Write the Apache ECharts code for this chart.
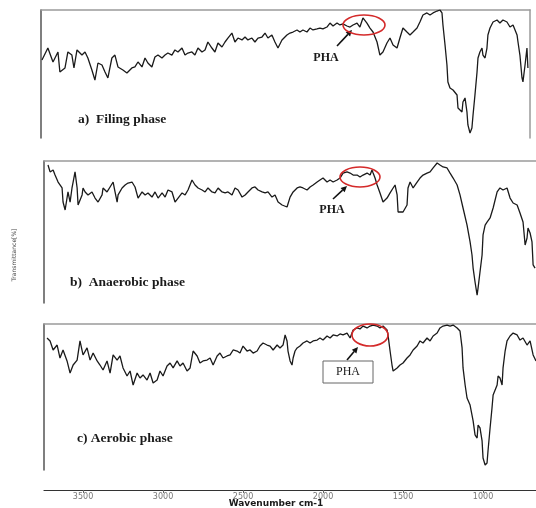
<!DOCTYPE html>
<html><head><meta charset="utf-8">
<script src="https://cdn.jsdelivr.net/npm/echarts@6/dist/echarts.min.js"></script>
<style>html,body{margin:0;padding:0;background:#fff}#c{width:536px;height:508px}</style>
</head><body><div id="c"></div>
<script>
// Panel a) Filing phase
const wnA=[3756,3719,3687,3656,3644,3612,3594,3569,3556,3537,3506,3487,3469,3444,3425,3406,3381,3362,3344,3319,3300,3281,3250,3225,3194,3175,3156,3131,3112,3094,3069,3050,3031,3006,2987,2969,2944,2925,2906,2881,2862,2844,2819,2800,2781,2756,2737,2719,2694,2675,2656,2631,2612,2594,2569,2550,2531,2506,2487,2469,2444,2425,2406,2381,2362,2344,2319,2300,2281,2256,2225,2206,2187,2162,2144,2125,2100,2081,2062,2037,2019,2000,1975,1956,1937,1912,1894,1875,1850,1831,1812,1787,1769,1750,1725,1706,1687,1662,1644,1625,1600,1581,1562,1537,1519,1500,1475,1456,1437,1412,1394,1375,1350,1331,1312,1287,1269,1256,1250,1237,1225,1219,1206,1187,1162,1156,1131,1125,1112,1100,1094,1081,1069,1062,1050,1037,1031,1019,1006,1000,987,975,969,956,937,912,894,875,850,831,812,787,781,769,756,750,737,725,719];
const tA=[60.9,70.3,59.4,67.2,51.6,54.7,67.2,64.8,54.7,68.8,64.8,67.2,62.5,53.1,45.3,58.6,57.0,51.6,46.9,62.5,64.8,55.5,53.1,50.8,54.7,55.5,59.4,55.5,62.5,58.6,55.5,63.3,64.8,62.5,64.8,66.4,64.8,68.8,67.2,70.3,64.8,66.4,67.2,64.8,70.3,67.2,68.8,75.0,70.3,67.2,74.2,71.1,75.0,78.1,82.0,75.0,78.1,76.6,78.9,76.6,78.1,75.0,78.1,78.9,82.0,78.1,80.5,75.0,70.3,76.6,80.5,82.0,82.8,84.4,82.8,84.4,82.8,85.9,84.4,85.2,85.9,85.2,86.7,89.8,87.5,89.8,88.3,89.1,87.5,86.7,88.3,89.8,86.7,93.8,89.8,85.9,82.8,75.0,64.8,67.2,74.2,78.1,72.7,70.3,78.1,85.9,82.8,80.5,82.8,85.9,90.6,96.1,97.7,96.1,97.7,99.2,100,97.7,88.3,72.7,57.0,43.8,39.1,37.5,33.6,23.4,20.3,28.1,31.3,20.3,10.2,3.9,7.8,18.0,33.6,51.6,62.5,67.2,70.3,64.8,62.5,70.3,80.5,85.9,90.6,92.2,89.8,92.2,90.6,86.7,88.3,80.5,75.0,64.8,46.9,43.8,57.0,70.3,54.7];
// Panel b) Anaerobic phase
const wnB=[3719,3706,3687,3675,3656,3631,3625,3612,3600,3594,3581,3569,3562,3550,3537,3531,3519,3506,3500,3487,3469,3444,3425,3406,3381,3375,3350,3331,3312,3300,3287,3281,3256,3237,3219,3194,3175,3156,3131,3112,3094,3069,3050,3031,3006,2987,2969,2944,2925,2906,2881,2862,2844,2819,2800,2781,2756,2737,2719,2694,2675,2656,2631,2612,2594,2569,2550,2531,2506,2487,2469,2444,2425,2406,2381,2362,2344,2319,2300,2281,2256,2250,2225,2206,2187,2162,2144,2125,2100,2081,2062,2037,2019,2000,1975,1956,1937,1912,1894,1875,1850,1831,1812,1787,1769,1750,1725,1706,1694,1687,1675,1662,1644,1625,1600,1581,1562,1550,1537,1531,1519,1500,1475,1469,1456,1437,1412,1394,1375,1350,1331,1312,1287,1281,1269,1250,1225,1206,1187,1162,1144,1125,1100,1081,1069,1062,1050,1037,1031,1019,1006,1000,987,975,956,937,912,894,875,850,831,812,787,769,750,737,725,719,706,694,687,675];
const tB=[97.2,92.3,93.7,90.1,85.2,81.0,71.1,65.5,66.9,78.2,71.1,81.0,85.2,92.3,81.0,69.0,67.6,76.1,81.0,78.2,76.1,78.2,73.9,71.1,76.1,81.0,78.2,81.7,85.2,78.2,71.1,76.1,81.0,83.1,84.5,85.2,81.7,73.9,78.2,76.1,77.5,74.6,78.2,73.9,77.5,74.6,79.6,78.2,71.1,73.9,77.5,76.1,79.6,86.6,83.1,81.0,79.6,78.2,81.0,78.2,77.5,81.0,78.2,77.5,78.2,76.1,81.0,79.6,74.6,76.1,78.2,81.0,81.7,79.6,78.2,77.5,78.2,74.6,76.1,71.1,69.0,70.4,67.6,74.6,78.2,81.0,81.7,81.0,79.6,81.7,83.1,85.2,86.6,88.0,85.2,86.6,85.2,86.6,88.0,91.5,92.3,91.5,90.1,90.1,88.7,90.1,91.5,90.1,93.7,91.5,88.0,83.1,77.5,71.1,73.9,77.5,81.0,83.1,76.1,64.1,63.4,64.1,69.0,81.0,85.2,81.0,85.2,88.0,90.1,91.5,92.3,95.1,98.6,99.3,97.2,95.8,95.1,91.5,88.0,83.1,76.1,66.9,54.9,43.0,33.8,24.6,14.8,5.6,10.6,21.8,33.8,47.9,54.9,57.0,59.9,66.9,78.2,81.0,79.6,81.0,73.9,70.4,69.0,63.4,57.0,40.8,45.8,52.8,49.3,43.0,26.8,24.6];
// Panel c) Aerobic phase
const wnC=[3725,3706,3687,3662,3644,3625,3600,3581,3562,3537,3519,3500,3475,3456,3437,3412,3394,3375,3350,3331,3312,3287,3269,3250,3225,3206,3187,3162,3144,3125,3100,3081,3062,3037,3019,3000,2975,2956,2937,2912,2894,2875,2850,2831,2812,2787,2769,2750,2725,2706,2687,2662,2644,2625,2600,2581,2562,2537,2519,2500,2475,2456,2437,2412,2394,2375,2350,2331,2312,2287,2269,2250,2237,2225,2219,2206,2194,2187,2175,2162,2144,2125,2100,2081,2062,2037,2019,2000,1975,1956,1937,1912,1894,1875,1850,1831,1812,1787,1769,1750,1725,1706,1687,1662,1644,1625,1600,1594,1581,1569,1562,1537,1519,1500,1475,1456,1437,1412,1394,1375,1350,1331,1312,1287,1269,1250,1225,1206,1187,1162,1144,1131,1125,1112,1100,1081,1062,1050,1037,1031,1019,1006,1000,987,975,969,956,944,937,912,906,894,881,875,862,850,831,812,787,769,750,725,706,687,669];
const tC=[90.4,88.4,82.2,85.6,76.7,82.2,74.7,66.4,71.9,75.3,88.4,78.8,83.6,75.3,80.1,74.7,71.9,68.5,74.7,66.4,78.8,75.3,78.1,69.9,64.4,67.8,58.2,66.4,63.0,65.1,61.6,66.4,59.6,61.6,67.8,64.4,71.2,73.3,69.9,74.7,71.2,73.3,67.8,69.9,81.5,78.1,73.3,74.7,75.3,76.7,71.9,78.1,80.1,76.7,78.1,78.8,82.2,81.5,80.1,84.9,81.5,82.2,80.1,81.5,84.9,87.0,85.6,84.9,82.2,85.6,83.6,85.6,92.5,88.4,81.5,74.7,71.9,76.7,81.5,83.6,84.9,87.0,88.4,87.0,88.4,89.0,90.4,89.0,91.8,90.4,92.5,91.8,93.2,92.5,93.8,90.4,95.9,97.3,96.6,98.6,97.3,98.6,99.3,98.6,97.3,98.6,95.9,92.5,81.5,71.9,67.8,69.9,71.9,73.3,76.7,78.8,82.2,84.9,88.4,87.0,90.4,88.4,91.8,93.8,97.3,98.6,99.3,98.6,99.3,97.3,95.2,83.6,69.9,58.2,49.3,44.5,33.6,24.0,21.9,30.8,28.8,19.9,8.2,3.4,4.8,13.0,28.8,42.5,51.4,58.2,64.4,63.0,58.2,69.9,81.5,88.4,91.8,93.8,92.5,89.0,90.4,85.6,88.4,78.8,74.7];

const xTicks=[3500,3000,2500,2000,1500,1000];
const panelLabels=['a)  Filing phase','b)  Anaerobic phase','c) Aerobic phase'];
const phaText='PHA';
const xTitle='Wavenumber cm-1';
const yTitle='Transmittance[%]';

function zip(x,y){return x.map((v,i)=>[v,y[i]]);}

const grids=[
  {left:41,top:10,width:489,height:128},
  {left:44,top:161,width:492,height:142},
  {left:44,top:324,width:492,height:146}
];
const ranges=[[706,3762],[669,3744],[669,3744]];
const xAxes=[],yAxes=[],series=[];
const datasets=[zip(wnA,tA),zip(wnB,tB),zip(wnC,tC)];
grids.forEach((g,i)=>{
  const isBottom=i===2;
  xAxes.push({gridIndex:i,type:'value',inverse:true,min:ranges[i][0],max:ranges[i][1],position:'bottom',
    offset:isBottom?20:0,show:isBottom,
    axisLine:{show:true,onZero:false,lineStyle:{color:'#333',width:1.2}},
    axisTick:{show:true,length:3,customValues:xTicks,lineStyle:{color:'#666'}},
    axisLabel:{show:true,fontSize:8,color:'#777',margin:3,customValues:xTicks,fontFamily:'DejaVu Sans',
      formatter:function(v){return String(v);}},
    splitLine:{show:false}});
  xAxes.push({gridIndex:i,type:'value',inverse:true,min:ranges[i][0],max:ranges[i][1],position:'top',
    axisLine:{show:true,onZero:false,lineStyle:{color:'#9a9a9a',width:1.5}},
    axisTick:{show:false},axisLabel:{show:false},splitLine:{show:false}});
  yAxes.push({gridIndex:i,type:'value',min:0,max:100,position:'left',
    axisLine:{show:true,onZero:false,lineStyle:{color:'#555',width:1.5}},
    axisTick:{show:false},axisLabel:{show:false},splitLine:{show:false}});
  series.push({type:'line',xAxisIndex:2*i,yAxisIndex:yAxes.length-1,data:datasets[i],
    showSymbol:false,symbol:'none',lineStyle:{color:'#1a1a1a',width:1.3},silent:true});
  if(i===0){
    yAxes.push({gridIndex:0,type:'value',min:0,max:100,position:'right',
      axisLine:{show:true,onZero:false,lineStyle:{color:'#9a9a9a',width:1.5}},
      axisTick:{show:false},axisLabel:{show:false},splitLine:{show:false}});
  }
});

function arrow(x1,y1,x2,y2){
  const dx=x2-x1,dy=y2-y1,L=Math.hypot(dx,dy),ux=dx/L,uy=dy/L,h=6,w=3;
  const bx=x2-ux*h,by=y2-uy*h;
  return [
    {type:'line',shape:{x1:x1,y1:y1,x2:bx,y2:by},style:{stroke:'#111',lineWidth:1.6}},
    {type:'polygon',shape:{points:[[x2,y2],[bx-uy*w,by+ux*w],[bx+uy*w,by-ux*w]]},style:{fill:'#111'}}
  ];
}
const serif='"Liberation Serif","DejaVu Serif",serif';
function txt(x,y,s,font,align){return {type:'text',x:x,y:y,style:{text:s,font:font,fill:'#1a1a1a',align:align||'left',verticalAlign:'middle'}};}
function ell(cx,cy,rx,ry){return {type:'ellipse',shape:{cx:cx,cy:cy,rx:rx,ry:ry},style:{fill:null,stroke:'#d42a2a',lineWidth:1.6},z:10};}

const graphic=[
  txt(78,120,panelLabels[0],'bold 13.5px '+serif),
  txt(70,283,panelLabels[1],'bold 13.5px '+serif),
  txt(77,439,panelLabels[2],'bold 13.5px '+serif),
  ell(364,25,21,10),ell(360,177,20,10),ell(370,335,18,11),
  ...arrow(337,46,352,30),...arrow(333,199,347,186),...arrow(347,360,358,347),
  txt(326,58,phaText,'bold 12px '+serif,'center'),
  txt(332,210,phaText,'bold 12px '+serif,'center'),
  {type:'rect',shape:{x:323,y:361,width:50,height:22},style:{fill:'#fff',stroke:'#666',lineWidth:1}},
  txt(348,372,phaText,'12px '+serif,'center'),
  {type:'text',x:14,y:255,rotation:Math.PI/2,style:{text:yTitle,font:'6px "DejaVu Sans"',fill:'#444',align:'center',verticalAlign:'middle'}},
  txt(276,504,xTitle,'bold 9px "DejaVu Sans"','center')
];

const chart=echarts.init(document.getElementById('c'));
chart.setOption({animation:false,backgroundColor:'#fff',grid:grids,xAxis:xAxes,yAxis:yAxes,series:series,graphic:graphic});
</script></body></html>
